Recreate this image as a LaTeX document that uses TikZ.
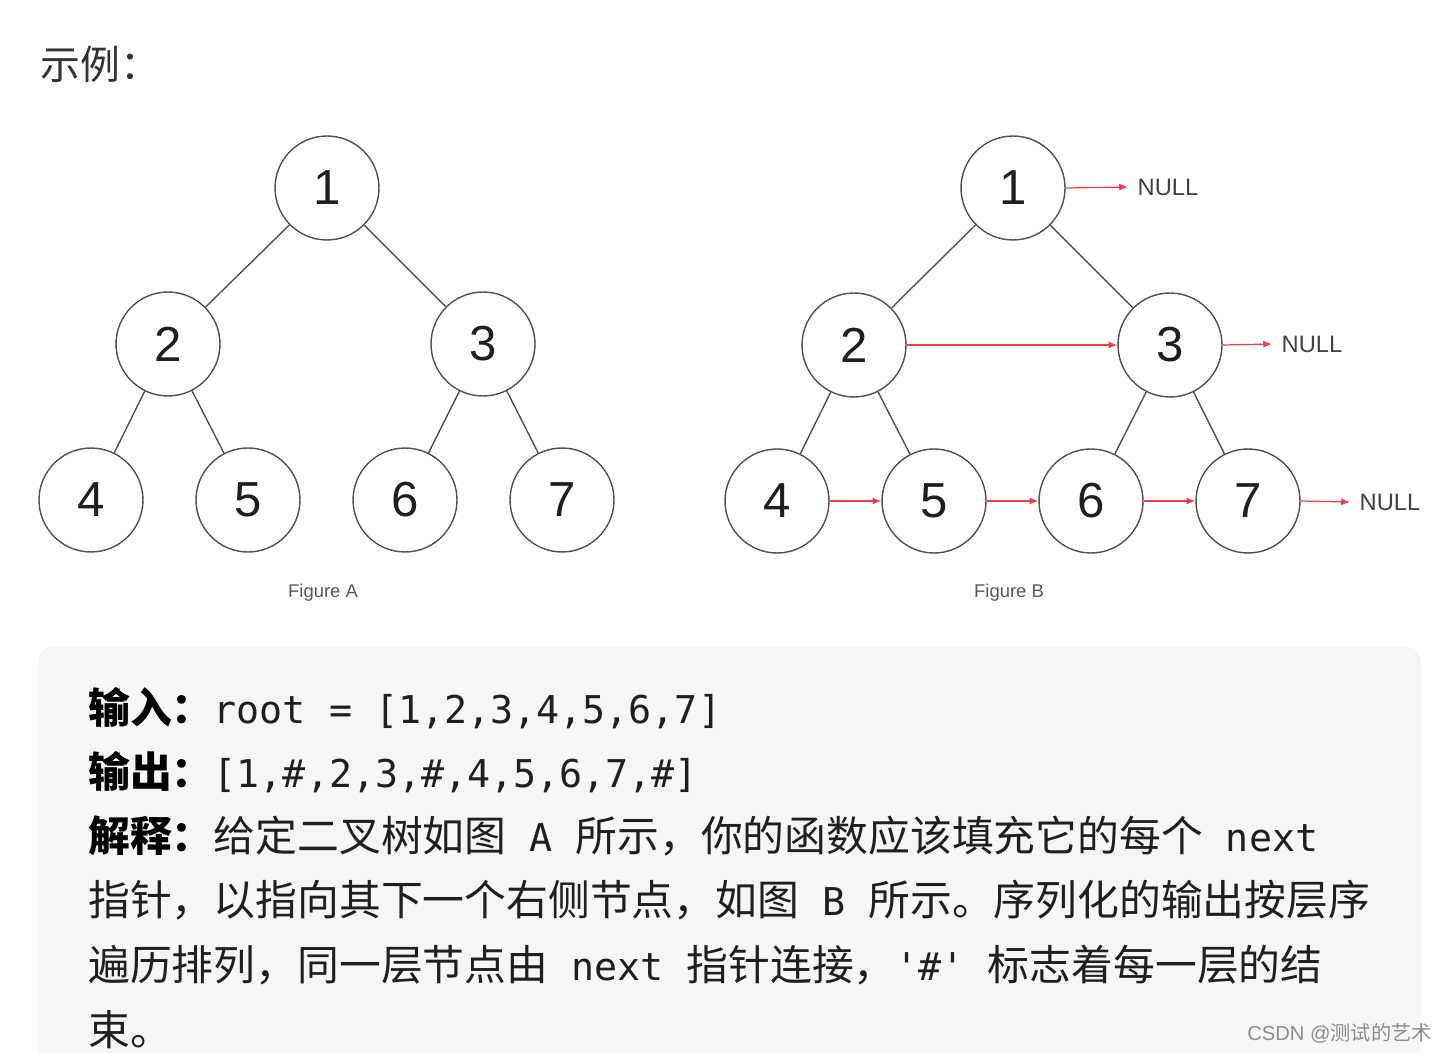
\documentclass[tikz,border=0pt]{standalone}
\usepackage{fontspec}
\setmainfont{Liberation Sans}
\setmonofont{DejaVu Sans Mono}
\newfontfamily\cjkfont{Noto Sans CJK SC}
\usetikzlibrary{arrows.meta}
\definecolor{trait}{RGB}{80,80,80}
\definecolor{rouge}{RGB}{240,60,75}
\definecolor{fond}{RGB}{246,246,246}
\newcommand{\mt}[1]{{\ttfamily\fontsize{21.8}{26}\selectfont #1}}
\tikzset{
  noeud/.style={circle,draw=trait,line width=0.8pt,minimum size=2.08cm,inner sep=0pt,
    font=\fontsize{28}{30}\selectfont,text=black!88},
  arete/.style={draw=trait,line width=0.8pt},
  suivant/.style={draw=rouge,line width=0.7pt,-{Latex[length=5pt,width=4pt]}},
  nul/.style={anchor=west,inner sep=0pt,outer sep=5.5pt,font=\fontsize{13.5}{16}\selectfont,text=black!75},
  legende/.style={font=\fontsize{10.5}{13}\selectfont,text=black!65},
  ligne/.style={anchor=base west,inner sep=0pt,font=\cjkfont\fontsize{23.8}{28}\selectfont,text=black!88},
}
\begin{document}
\begin{tikzpicture}[x=0.02cm,y=-0.02cm]
\useasboundingbox (0,0) rectangle (1449,1053);
\pgfmathsetmacro{\decal}{686}
  \node[anchor=base west,inner sep=0pt,font=\cjkfont\fontsize{22.7}{26}\selectfont,text=black!80] (titre) at (40,80) {示例：};
  % figure A
  \foreach \n/\x/\y in {1/327/188,2/168/344,3/483/344,4/91/500,5/248/500,6/405/500,7/562/500}
    \node[noeud] (a\n) at (\x,\y) {\n};
  \foreach \p/\f in {1/2,1/3,2/4,2/5,3/6,3/7} \draw[arete] (a\p) -- (a\f);
  \node[legende] (capa) at (323,593) {Figure A};
  % figure B
  \foreach \n/\x/\y in {1/327/188,2/168/345,3/484/345,4/91/501,5/248/501,6/405/501,7/562/501}
    \node[noeud] (b\n) at (\x+\decal,\y) {\n};
  \foreach \p/\f in {1/2,1/3,2/4,2/5,3/6,3/7} \draw[arete] (b\p) -- (b\f);
  \foreach \p/\f in {2/3,4/5,5/6,6/7} \draw[suivant] (b\p) -- (b\f);
  \node[nul] (n1) at (1128,187) {NULL};
  \node[nul] (n3) at (1272,344) {NULL};
  \node[nul] (n7) at (1350,502) {NULL};
  \draw[suivant] (b1.east) -- (n1.west);
  \draw[suivant] (b3.east) -- (n3.west);
  \draw[suivant] (b7.east) -- (n7.west);
  \node[legende] (capb) at (1009,593) {Figure B};
  % encadre
  \fill[fond,rounded corners=8pt] (38,647) rectangle (1421,1090);
  \node[ligne] (l1) at (88,723) {{\bfseries\color{black}输入：}\mt{root = [1,2,3,4,5,6,7]}};
  \node[ligne] (l2) at (88,787) {{\bfseries\color{black}输出：}\mt{[1,\#,2,3,\#,4,5,6,7,\#]}};
  \node[ligne] (l3) at (88,851) {{\bfseries\color{black}解释：}给定二叉树如图\mt{ A }所示，你的函数应该填充它的每个\mt{ next}};
  \node[ligne] (l4) at (88,915) {指针，以指向其下一个右侧节点，如图\mt{ B }所示。序列化的输出按层序};
  \node[ligne] (l5) at (88,980) {遍历排列，同一层节点由\mt{ next }指针连接，\mt{'\#' }标志着每一层的结};
  \node[ligne] (l6) at (88,1045) {束。};
  \node[anchor=east,inner sep=0pt,font=\fontsize{11.5}{14}\selectfont,text=black!45] (marque) at (1432,1033) {CSDN @{\cjkfont 测试的艺术}};
\end{tikzpicture}
\end{document}
